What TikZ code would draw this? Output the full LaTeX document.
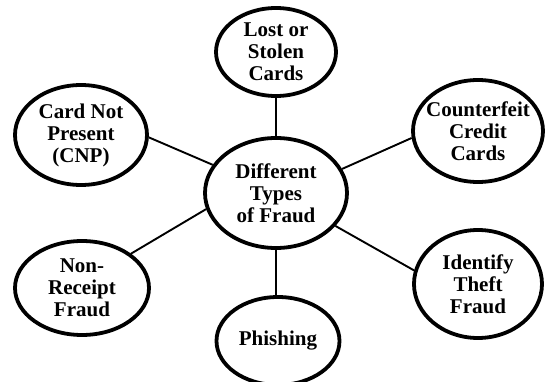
\documentclass[tikz,border=0pt]{standalone}
\usepackage{fontspec}
\setmainfont{Liberation Serif}
\usetikzlibrary{shapes.geometric}
\tikzset{
  bubble/.style={ellipse, draw=black, line width=3.8pt, inner sep=0pt,
    align=center, font=\bfseries\fontsize{21}{22}\selectfont},
  link/.style={line width=1.9pt, black},
}
\begin{document}
\begin{tikzpicture}[x=1pt, y=-1pt]
  \fill[white] (0,0) rectangle (547,382);
  \useasboundingbox (0,0) rectangle (547,382);

  % central topic
  \node[bubble, minimum width=142pt, minimum height=110pt] (hub) at (276,193)
    {Different\\Types\\of Fraud};

  % fraud categories around it
  \node[bubble, minimum width=120pt, minimum height=88pt] (lost) at (276,52)
    {Lost or\\Stolen\\Cards};
  \node[bubble, minimum width=132pt, minimum height=100pt] (cnp) at (81,135)
    {Card Not\\Present\\(CNP)};
  % wide label: shrink the text box so the outline keeps its set size
  \node[bubble, inner xsep=-16pt, minimum width=130pt, minimum height=102pt]
    (fake) at (478,131) {Counterfeit\\Credit\\Cards};
  \node[bubble, minimum width=134pt, minimum height=94pt] (nonrec) at (82,288)
    {Non-\\Receipt\\Fraud};
  \node[bubble, minimum width=123pt, minimum height=88pt] (phish) at (278,341)
    {Phishing};
  \node[bubble, minimum width=128pt, minimum height=108pt] (ident) at (478,284)
    {Identify\\Theft\\Fraud};

  % spokes
  \draw[link] (hub.north) -- (hub.north |- lost.south);
  \draw[link] (hub.south) -- (hub.south |- phish.north);
  \draw[link] (cnp.-2) -- (hub.156);
  \draw[link] (fake.186) -- (hub.20);
  \draw[link] (ident.168) -- (hub.-29);
  \draw[link] (nonrec.35) -- (hub.193);
\end{tikzpicture}
\end{document}
